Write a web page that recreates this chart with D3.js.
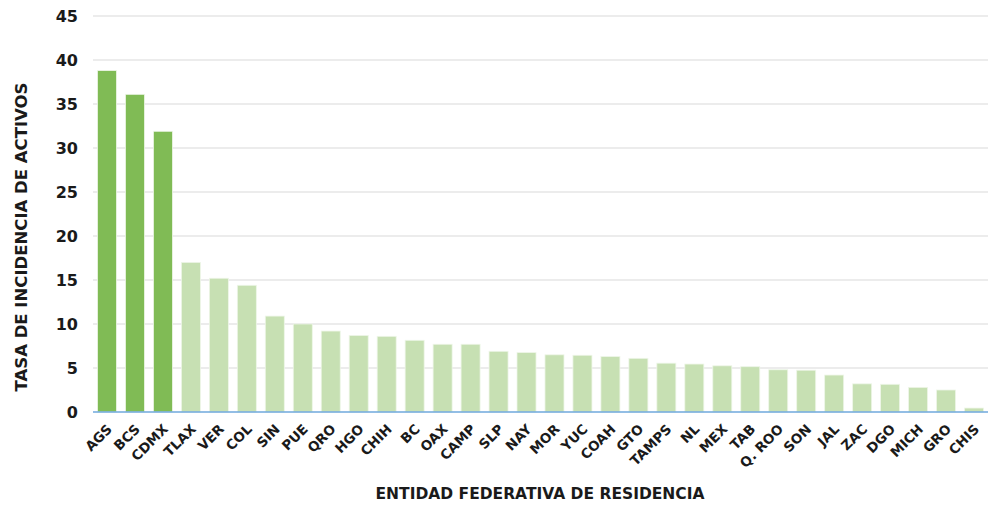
<!DOCTYPE html>
<meta charset="utf-8">
<html>
  <head>
    <style>
      body { margin: 0; background: #fff; }
      text { font-family: "DejaVu Sans", "Open Sans", sans-serif; font-weight: 700; fill: #1a1a1a; }
      .grid line { stroke: #d9d9d9; stroke-width: 1.2px; }
      .y-axis text { font-size: 16px; }
      .x-axis text { font-size: 13.5px; }
      .title { font-size: 15.5px; }
      .title-y { font-size: 16.5px; }
    </style>
    <script src="https://d3js.org/d3.v7.min.js"></script>
  </head>
  <body>
    <div id="chart"></div>
    <script type="text/javascript">
      var states = ["AGS", "BCS", "CDMX", "TLAX", "VER", "COL", "SIN", "PUE", "QRO", "HGO", "CHIH", "BC",
                    "OAX", "CAMP", "SLP", "NAY", "MOR", "YUC", "COAH", "GTO", "TAMPS", "NL", "MEX", "TAB",
                    "Q. ROO", "SON", "JAL", "ZAC", "DGO", "MICH", "GRO", "CHIS"];
      var rates = [38.8, 36.1, 31.9, 17.0, 15.2, 14.4, 10.9, 10.0, 9.2, 8.7, 8.6, 8.15,
                   7.7, 7.7, 6.9, 6.75, 6.5, 6.45, 6.3, 6.1, 5.55, 5.45, 5.25, 5.15,
                   4.8, 4.75, 4.2, 3.2, 3.15, 2.8, 2.5, 0.45];
      var highlighted = ["AGS", "BCS", "CDMX"];
      var yTicks = [0, 5, 10, 15, 20, 25, 30, 35, 40, 45];

      var width = 994, height = 506,
          margin = { top: 16, right: 6, bottom: 94, left: 93 };

      var svg = d3.select("#chart").append("svg")
          .attr("width", width)
          .attr("height", height);

      var x = d3.scaleBand()
          .domain(states)
          .range([margin.left, width - margin.right])
          .paddingInner(0.32)
          .paddingOuter(0.16);

      var y = d3.scaleLinear()
          .domain([0, 45])
          .range([height - margin.bottom, margin.top]);

      // gridlines
      svg.append("g")
          .attr("class", "grid")
          .selectAll("line")
          .data(yTicks.filter(function(d) { return d > 0; }))
          .enter().append("line")
            .attr("x1", margin.left)
            .attr("x2", width - margin.right)
            .attr("y1", function(d) { return y(d); })
            .attr("y2", function(d) { return y(d); });

      // y axis labels
      var yAxis = svg.append("g")
          .attr("class", "y-axis")
          .attr("transform", "translate(" + (margin.left - 15) + ",0)")
          .call(d3.axisLeft(y).tickValues(yTicks).tickSize(0).tickPadding(0));
      yAxis.select(".domain").remove();
      yAxis.selectAll("text").attr("dy", "0.36em");

      // bars
      svg.selectAll(".bar")
          .data(states)
          .enter().append("rect")
            .attr("class", "bar")
            .attr("x", function(d) { return x(d); })
            .attr("y", function(d, i) { return y(rates[i]); })
            .attr("width", x.bandwidth())
            .attr("height", function(d, i) { return y(0) - y(rates[i]); })
            .style("fill", function(d) { return highlighted.indexOf(d) >= 0 ? "#80bb55" : "#c7e0b3"; })
            .style("stroke", "#eef6e8")
            .style("stroke-width", 0.8);

      // baseline
      svg.append("line")
          .attr("x1", margin.left)
          .attr("x2", width - margin.right)
          .attr("y1", y(0))
          .attr("y2", y(0))
          .style("stroke", "#6fa8dc")
          .style("stroke-width", 1.5);

      // x axis labels
      var xAxis = svg.append("g")
          .attr("class", "x-axis")
          .attr("transform", "translate(0," + y(0) + ")")
          .call(d3.axisBottom(x).tickSize(0).tickPadding(0));
      xAxis.select(".domain").remove();
      xAxis.selectAll("text")
          .attr("y", 0)
          .attr("dy", 0)
          .style("text-anchor", "end")
          .attr("transform", "translate(6,18) rotate(-45)");

      // axis titles
      svg.append("text")
          .attr("class", "title")
          .attr("x", 540)
          .attr("y", 499)
          .style("text-anchor", "middle")
          .text("ENTIDAD FEDERATIVA DE RESIDENCIA");

      svg.append("text")
          .attr("class", "title-y")
          .attr("transform", "translate(27," + 237 + ") rotate(-90)")
          .style("text-anchor", "middle")
          .text("TASA DE INCIDENCIA DE ACTIVOS");
    </script>
  </body>
</html>
